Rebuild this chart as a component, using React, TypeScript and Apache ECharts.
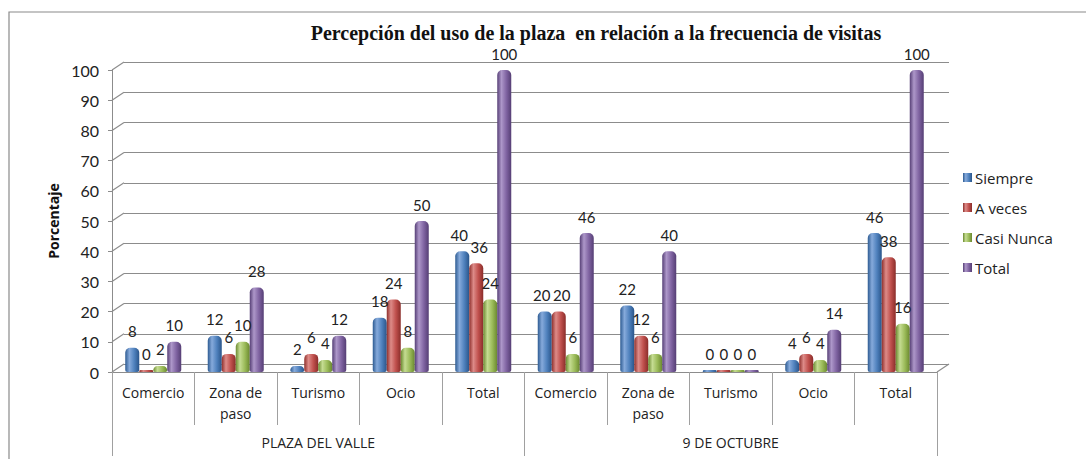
import React, { useEffect, useRef } from "react";
import * as echarts from "echarts";

const categories = [
  "Comercio", "Zona de\npaso", "Turismo", "Ocio", "Total",
  "Comercio", "Zona de\npaso", "Turismo", "Ocio", "Total",
];
const groups = ["PLAZA DEL VALLE", "9 DE OCTUBRE"];
const seriesNames = ["Siempre", "A veces", "Casi Nunca", "Total"];
const siempre = [8, 12, 2, 18, 40, 20, 22, 0, 4, 46];
const aVeces = [0, 6, 6, 24, 36, 20, 12, 0, 6, 38];
const casiNunca = [2, 10, 4, 8, 24, 6, 6, 0, 4, 16];
const total = [10, 28, 12, 50, 100, 46, 40, 0, 14, 100];
const yTicks = [0, 10, 20, 30, 40, 50, 60, 70, 80, 90, 100];

const palettes = [
  ["#2d5b92", "#86aadb", "#4F81BD", "#2a558a"],
  ["#8e2f2c", "#dd8b88", "#C0504D", "#8a2d2a"],
  ["#6b8a30", "#c5dc92", "#9BBB59", "#6a882f"],
  ["#563f76", "#ad97c9", "#8064A2", "#553e74"],
];
const baseColors = ["#4F81BD", "#C0504D", "#9BBB59", "#8064A2"];

const GL = 112, GR = 937, GT = 70, GB = 372;
const DX = 12, DY = -8;

export default function App() {
  const ref = useRef<HTMLDivElement>(null);
  useEffect(() => {
    if (!ref.current) return;
    const chart = echarts.init(ref.current, null, { renderer: "svg" });
    const W = 1086, H = 459;
    const font = "'Open Sans', Lato, sans-serif";
    const data = [siempre, aVeces, casiNunca, total];
    // push apart neighbouring two-digit labels of similar height
    const crowded = siempre.map((v, k) => v >= 10 && aVeces[k] >= 10 && Math.abs(v - aVeces[k]) < 6);
    const series: any[] = data.map((d, i) => ({
      name: seriesNames[i],
      type: "bar",
      xAxisIndex: 0,
      yAxisIndex: 0,
      data: d.map((v, k) =>
        crowded[k] && i < 2 ? { value: v, label: { offset: [i === 0 ? -3 : 3, 0] } } : v
      ),
      barWidth: 14,
      barGap: "0%",
      barMinHeight: 2,
      itemStyle: {
        color: new echarts.graphic.LinearGradient(0, 0, 1, 0, [
          { offset: 0, color: palettes[i][0] },
          { offset: 0.3, color: palettes[i][1] },
          { offset: 0.65, color: palettes[i][2] },
          { offset: 1, color: palettes[i][3] },
        ]),
        borderRadius: [5, 5, 2, 2],
      },
      label: {
        show: true,
        position: "top",
        distance: 9,
        fontFamily: "Lato, sans-serif",
        fontSize: 15,
        color: "#222",
      },
    }));
    chart.setOption({
      animation: false,
      color: baseColors,
      title: {
        text: "Percepción del uso de la plaza  en relación a la frecuencia de visitas",
        left: 591,
        textAlign: "center",
        top: 18,
        textStyle: {
          fontFamily: "'Liberation Serif', 'DejaVu Serif', serif",
          fontWeight: "bold",
          fontSize: 20,
          color: "#111",
        },
      },
      legend: {
        data: seriesNames,
        orient: "vertical",
        left: 958,
        top: 165,
        itemGap: 15,
        itemWidth: 9,
        itemHeight: 9,
        icon: "rect",
        textStyle: { fontFamily: font, fontSize: 15, color: "#222", padding: [0, 0, 0, -2] },
      },
      grid: [
        { left: GL, right: W - GR, top: GT, bottom: H - GB },
        { left: GL + DX, right: W - GR - DX, top: GT + DY, bottom: H - GB - DY },
      ],
      xAxis: [
        {
          type: "category",
          gridIndex: 0,
          data: categories,
          position: "bottom",
          axisLine: { show: true, lineStyle: { color: "#8c8c8c" } },
          axisTick: { show: true, length: 53, interval: 0, lineStyle: { color: "#a0a0a0" } },
          axisLabel: {
            interval: 0,
            margin: 10,
            fontFamily: font,
            fontSize: 14,
            lineHeight: 21,
            color: "#222",
          },
        },
        {
          type: "category",
          gridIndex: 0,
          data: groups,
          position: "bottom",
          axisLine: { show: false },
          axisTick: { show: true, length: 84, interval: 0, lineStyle: { color: "#a0a0a0" } },
          axisLabel: {
            interval: 0,
            margin: 63,
            fontFamily: font,
            fontSize: 14,
            color: "#222",
          },
        },
        {
          type: "category",
          gridIndex: 1,
          data: categories,
          show: false,
        },
      ],
      yAxis: [
        {
          type: "value",
          gridIndex: 0,
          min: 0,
          max: 100,
          interval: 10,
          name: "Porcentaje",
          nameLocation: "middle",
          nameGap: 50,
          nameRotate: 90,
          nameTextStyle: { fontFamily: font, fontWeight: "bold", fontSize: 14, color: "#111" },
          axisLine: { show: true, lineStyle: { color: "#8c8c8c" } },
          axisTick: { show: true, length: 4, lineStyle: { color: "#8c8c8c" } },
          axisLabel: { fontFamily: "Lato, sans-serif", fontSize: 16, color: "#222", margin: 13 },
          splitLine: { show: false },
        },
        {
          type: "value",
          gridIndex: 1,
          min: 0,
          max: 100,
          interval: 10,
          axisLine: { show: false },
          axisTick: { show: false },
          axisLabel: { show: false },
          splitLine: { show: true, lineStyle: { color: "#8c8c8c", width: 1.2 } },
        },
      ],
      series,
    });

    const lines: any[] = yTicks.map((v) => {
      const y = chart.convertToPixel({ yAxisIndex: 0 }, v) as number;
      return {
        type: "line",
        silent: true,
        shape: { x1: GL, y1: y, x2: GL + DX, y2: y + DY },
        style: { stroke: "#8c8c8c", lineWidth: 1.2 },
      };
    });
    const y0 = chart.convertToPixel({ yAxisIndex: 0 }, 0) as number;
    lines.push({
      type: "line",
      silent: true,
      shape: { x1: GR, y1: y0, x2: GR + DX, y2: y0 + DY },
      style: { stroke: "#8c8c8c", lineWidth: 1.2 },
    });
    lines.push({
      type: "rect",
      silent: true,
      z: -10,
      shape: { x: 9, y: 12, width: 1200, height: 600 },
      style: { fill: "none", stroke: "#8a8a8a", lineWidth: 1.2 },
    });
    chart.setOption({ graphic: lines });

    return () => chart.dispose();
  }, []);
  return (
    <div
      ref={ref}
      style={{ position: "fixed", left: 0, top: 0, width: 1086, height: 459, background: "#fff" }}
    />
  );
}
